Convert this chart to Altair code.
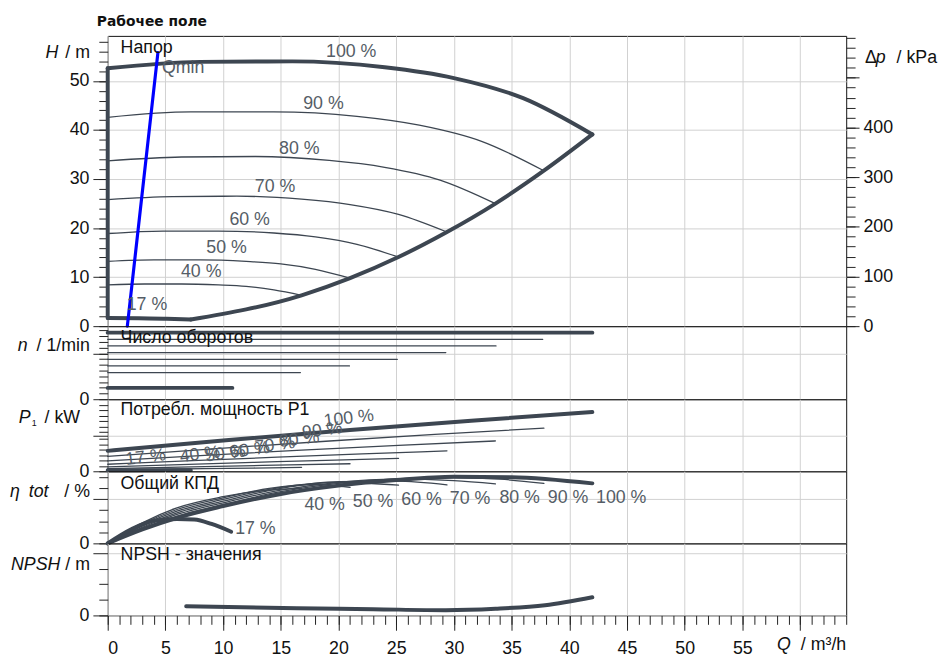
import altair as alt
import pandas as pd

# ---------------- data ----------------
# Head H [m] over Q [m3/h] per speed
HQ_100 = [0, 8, 16, 24, 30, 36, 42]
HH_100 = [52.6, 53.9, 54.0, 52.8, 50.6, 46.5, 39.1]
HQ_90 = [0, 7.2, 14.4, 21.6, 27.0, 32.4, 37.8]
HH_90 = [42.6, 43.7, 43.7, 42.8, 41.0, 37.7, 31.7]
HQ_80 = [0, 6.4, 12.8, 19.2, 24.0, 28.8, 33.6]
HH_80 = [33.7, 34.5, 34.6, 33.8, 32.4, 29.8, 25.0]
HQ_70 = [0, 5.6, 11.2, 16.8, 21.0, 25.2, 29.4]
HH_70 = [25.8, 26.4, 26.5, 25.9, 24.8, 22.8, 19.2]
HQ_60 = [0, 4.8, 9.6, 14.4, 18.0, 21.6, 25.2]
HH_60 = [18.9, 19.4, 19.4, 19.0, 18.2, 16.7, 14.1]
HQ_50 = [0, 4.0, 8.0, 12.0, 15.0, 18.0, 21.0]
HH_50 = [13.2, 13.5, 13.5, 13.2, 12.7, 11.6, 9.8]
HQ_40 = [0, 3.2, 6.4, 9.6, 12.0, 14.4, 16.8]
HH_40 = [8.4, 8.6, 8.6, 8.4, 8.1, 7.4, 6.3]
HQ_17 = [0, 2.7, 5.1, 7.2]
HH_17 = [1.65, 1.62, 1.5, 1.35]
EDGE_Q = [7.2, 16.8, 21.0, 25.2, 29.4, 33.6, 37.8, 42.0]
EDGE_H = [1.35, 6.3, 9.8, 14.1, 19.2, 25.0, 31.7, 39.1]
LEFT_Q = [0, 0]
LEFT_H = [1.65, 52.6]
QMIN_Q = [1.7, 4.35]
QMIN_H = [0, 55.8]
KPA_PER_M = 9.87
DP_MAJOR = [0, 100, 200, 300, 400, 500]

# Speed n [1/min]
SPEED_NAMES = ["100 %", "90 %", "80 %", "70 %", "60 %", "50 %", "40 %", "17 %"]
N_END_Q = [42.0, 37.7, 33.65, 29.3, 25.1, 20.95, 16.7, 10.8]
N_RPM = [2900, 2610, 2320, 2030, 1740, 1450, 1160, 493]

# Power P1 [kW]
PQ_100 = [0, 10.5, 21, 31.5, 42]
PP_100 = [2.85, 4.35, 5.75, 7.05, 8.26]
PQ_90 = [0, 9.45, 18.9, 28.35, 37.8]
PP_90 = [2.08, 3.17, 4.19, 5.14, 6.02]
PQ_80 = [0, 8.4, 16.8, 25.2, 33.6]
PP_80 = [1.46, 2.23, 2.94, 3.61, 4.23]
PQ_70 = [0, 7.35, 14.7, 22.05, 29.4]
PP_70 = [0.98, 1.49, 1.97, 2.42, 2.85]
PQ_60 = [0, 6.3, 12.6, 18.9, 25.2]
PP_60 = [0.62, 0.94, 1.24, 1.52, 1.8]
PQ_50 = [0, 5.25, 10.5, 15.75, 21]
PP_50 = [0.36, 0.54, 0.72, 0.88, 1.05]
PQ_40 = [0, 4.2, 8.4, 12.6, 16.8]
PP_40 = [0.18, 0.28, 0.37, 0.45, 0.55]
PQ_17 = [0, 7.2]
PP_17 = [0.14, 0.16]

# Efficiency eta tot [%]
EQ_100 = [0, 3, 6, 10, 15, 20, 25, 30, 35, 42]
EE_100 = [0, 12.5, 23, 33.5, 44.5, 52, 57, 60, 59.6, 54]
EQ_90 = [0, 3, 6, 10, 15, 20, 25, 30, 34, 37.8]
EE_90 = [0, 13.5, 24.5, 35, 46.5, 54, 58, 59.2, 57.8, 54]
EQ_80 = [0, 3, 6, 10, 15, 20, 25, 30, 33.6]
EE_80 = [0, 14.5, 26, 36.5, 48, 55, 57.8, 56.5, 53.6]
EQ_70 = [0, 3, 6, 10, 15, 20, 25, 29.4]
EE_70 = [0, 15.5, 27.5, 38, 49.5, 55.5, 56, 52.7]
EQ_60 = [0, 3, 6, 10, 15, 20, 25.2]
EE_60 = [0, 16.5, 29, 39.5, 50.5, 54.8, 52.4]
EQ_50 = [0, 3, 6, 10, 14, 18, 21]
EE_50 = [0, 17.5, 30.5, 41, 49.5, 53, 50.4]
EQ_40 = [0, 3, 6, 10, 13, 16.8]
EE_40 = [0, 18.5, 32, 42, 47, 49.8]
EQ_17 = [0, 2, 4, 6, 7.5, 9, 10.7]
EE_17 = [0, 12.5, 20.5, 22, 21.5, 17.5, 10.5]

# NPSH [m]
NPSH_Q = [6.8, 16.4, 23, 29.3, 33.6, 37.9, 42]
NPSH_V = [1.47, 1.15, 1.0, 0.84, 1.07, 1.63, 2.9]

# curve labels (Q, value)
H_LAB = ["100 %", "90 %", "80 %", "70 %", "60 %", "50 %", "40 %", "17 %"]
H_LAB_Q = [21.1, 18.7, 16.6, 14.5, 12.3, 10.3, 8.1, 3.4]
H_LAB_V = [55.8, 45.3, 36.2, 28.4, 21.7, 15.9, 11.1, 4.2]
P_LAB = ["100 %", "90 %", "80 %", "70 %", "60 %", "50 %", "40 %", "17 %"]
P_LAB_Q = [20.9, 18.6, 16.6, 14.5, 12.3, 10.2, 8.0, 3.3]
P_LAB_V = [7.34, 5.65, 4.4, 3.6, 2.9, 2.4, 2.3, 1.9]
E_LAB = ["100 %", "90 %", "80 %", "70 %", "60 %", "50 %", "40 %", "17 %"]
E_LAB_Q = [44.5, 39.9, 35.7, 31.4, 27.2, 23.0, 18.8, 12.8]
E_LAB_V = [40.9, 40.9, 40.9, 40.0, 39.4, 37.6, 34.7, 13.3]

# ---------------- styling ----------------
LINE = "#3d4651"
LABEL = "#555d66"
GRID = "#d0d0d0"
FONT = "Liberation Sans"
FS = 18
W = 748
XS = alt.Scale(domain=[0, 64], nice=False, zero=False)

H_DOM = [0, 59.2]
N_DOM = [0, 3183]
P_DOM = [0, 10.05]
E_DOM = [0, 64.9]
S_DOM = [0, 11.53]


def ys(dom):
    return alt.Scale(domain=dom, nice=False, zero=False)


def curves(items, dom, interp="monotone", color=LINE):
    rows = []
    for name, qs, vs, w in items:
        for i, (q, v) in enumerate(zip(qs, vs)):
            rows.append({"c": name, "q": q, "v": v, "o": i, "w": w})
    df = pd.DataFrame(rows)
    return alt.Chart(df).mark_line(
        interpolate=interp, strokeCap="round", strokeJoin="round"
    ).encode(
        x=alt.X("q:Q", scale=XS, axis=None),
        y=alt.Y("v:Q", scale=ys(dom), axis=None),
        detail="c:N",
        order="o:Q",
        strokeWidth=alt.StrokeWidth("w:Q", scale=None),
        color=alt.value(color),
    )


def labels(texts, qs, vs, dom, align="center", angle=0, color=LABEL, size=FS):
    df = pd.DataFrame({"t": texts, "q": qs, "v": vs})
    return alt.Chart(df).mark_text(
        font=FONT, fontSize=size, color=color, align=align, baseline="middle", angle=angle
    ).encode(
        x=alt.X("q:Q", scale=XS, axis=None),
        y=alt.Y("v:Q", scale=ys(dom), axis=None),
        text="t:N",
    )


def ptext(t, x, y, align="left", italic=False, size=FS, color="#111", weight="normal", font=FONT):
    return alt.Chart(pd.DataFrame({"t": [t]})).mark_text(
        font=font, fontSize=size, color=color, align=align, baseline="middle",
        fontStyle="italic" if italic else "normal", fontWeight=weight,
    ).encode(x=alt.value(x), y=alt.value(y), text="t:N")


def yaxis(dom, values, size, orient="left", grid=False, label_expr=None):
    kw = dict(
        values=values, orient=orient, grid=grid, gridColor=GRID, gridWidth=1,
        tickSize=size, tickColor="#222", tickWidth=1, domain=False, title=None,
        labelFont=FONT, labelFontSize=FS, labelColor="#111", labelPadding=4,
    )
    if label_expr is None:
        kw["labels"] = False
    else:
        kw["labelExpr"] = label_expr
    return alt.Chart(pd.DataFrame({"q": [0], "v": [dom[0]]})).mark_point(opacity=0).encode(
        x=alt.X("q:Q", scale=XS, axis=None),
        y=alt.Y("v:Q", scale=ys(dom), axis=alt.Axis(**kw)),
    )


def xaxis(dom, values, size=0, grid=False, ticks=False, label_expr=None):
    kw = dict(
        values=values, orient="bottom", grid=grid, gridColor=GRID, gridWidth=1, ticks=ticks,
        tickColor="#222", domain=False, title=None,
        labelFont=FONT, labelFontSize=FS, labelColor="#111", labelPadding=10,
    )
    if ticks:
        kw["tickSize"] = size
    if label_expr is None:
        kw["labels"] = False
    else:
        kw["labelExpr"] = label_expr
    return alt.Chart(pd.DataFrame({"q": [0], "v": [dom[0]]})).mark_point(opacity=0).encode(
        x=alt.X("q:Q", scale=XS, axis=alt.Axis(**kw)),
        y=alt.Y("v:Q", scale=ys(dom), axis=None),
    )


def panel(layers, height):
    return alt.layer(*layers).resolve_axis(
        x="independent", y="independent"
    ).properties(width=W, height=height)


MAJOR_X = list(range(0, 65, 5))

# ---------------- panels ----------------
head = panel([
    xaxis(H_DOM, MAJOR_X, grid=True),
    yaxis(H_DOM, [0, 10, 20, 30, 40, 50], 15, grid=True, label_expr="datum.label"),
    yaxis(H_DOM, [v * 2 for v in range(0, 30)], 9),
    yaxis(H_DOM, [d / KPA_PER_M for d in DP_MAJOR], 13, orient="right",
          label_expr="datum.value < 45 ? format(datum.value * %s, '.0f') : ''" % KPA_PER_M),
    yaxis(H_DOM, [v * 20 / KPA_PER_M for v in range(0, 30)], 9, orient="right"),
    curves([
        ("90", HQ_90, HH_90, 1.3), ("80", HQ_80, HH_80, 1.3), ("70", HQ_70, HH_70, 1.3),
        ("60", HQ_60, HH_60, 1.3), ("50", HQ_50, HH_50, 1.3), ("40", HQ_40, HH_40, 1.3),
    ], H_DOM),
    curves([
        ("100", HQ_100, HH_100, 4), ("17", HQ_17, HH_17, 4),
        ("edge", EDGE_Q, EDGE_H, 4), ("left", LEFT_Q, LEFT_H, 4),
    ], H_DOM),
    curves([("qmin", QMIN_Q, QMIN_H, 3.2)], H_DOM, interp="linear", color="#0000ff"),
    labels(H_LAB, H_LAB_Q, H_LAB_V, H_DOM),
    labels(["Qmin"], [4.7], [52.7], H_DOM, align="left"),
    ptext("Напор", 13, 12),
    ptext("H", -63, 17, italic=True),
    ptext("/ m", -18, 17, align="right"),
    ptext("Δ", 767, 22),
    ptext("p", 778, 22, italic=True),
    ptext("/ kPa", 840, 22, align="right"),
    ptext("Рабочее поле", -11, -14, weight="bold", size=14, font="DejaVu Sans"),
], 294)

n_items = []
for name, qe, rpm in zip(SPEED_NAMES, N_END_Q, N_RPM):
    w = 4 if name in ("100 %", "17 %") else 1.3
    n_items.append((name, [0, qe], [rpm, rpm], w))

speed = panel([
    xaxis(N_DOM, MAJOR_X, grid=True),
    yaxis(N_DOM, [0, 2000], 15, grid=True, label_expr="datum.value == 0 ? '0' : ''"),
    yaxis(N_DOM, [v * 250 for v in range(0, 13)], 9),
    curves([i for i in n_items if i[3] < 2], N_DOM, interp="linear"),
    curves([i for i in n_items if i[3] >= 2], N_DOM, interp="linear"),
    ptext("Число оборотов", 13, 12),
    ptext("n", -91, 20, italic=True),
    ptext("/ 1/min", -18, 20, align="right"),
], 74)

power = panel([
    xaxis(P_DOM, MAJOR_X, grid=True),
    yaxis(P_DOM, [0, 5], 15, grid=True, label_expr="datum.value == 0 ? '0' : ''"),
    yaxis(P_DOM, [0, 0.75, 1.5, 2.25, 3.0, 3.75, 4.5, 5.5, 6.25, 7.0, 7.75, 8.5, 9.25], 9),
    curves([
        ("90", PQ_90, PP_90, 1.3), ("80", PQ_80, PP_80, 1.3), ("70", PQ_70, PP_70, 1.3),
        ("60", PQ_60, PP_60, 1.3), ("50", PQ_50, PP_50, 1.3), ("40", PQ_40, PP_40, 1.3),
    ], P_DOM),
    curves([("100", PQ_100, PP_100, 4), ("17", PQ_17, PP_17, 4)], P_DOM),
    labels(P_LAB, P_LAB_Q, P_LAB_V, P_DOM, angle=353),
    ptext("Потребл. мощность P1", 13, 11),
    ptext("P", -90, 19, italic=True),
    ptext("1", -77, 24, size=9),
    ptext("/ kW", -28, 19, align="right"),
], 73)

eff = panel([
    xaxis(E_DOM, MAJOR_X, grid=True),
    yaxis(E_DOM, [0, 40], 15, grid=True, label_expr="datum.value == 0 ? '0' : ''"),
    yaxis(E_DOM, [0, 10, 20, 30, 50, 60], 9),
    curves([
        ("90", EQ_90, EE_90, 1.3), ("80", EQ_80, EE_80, 1.3), ("70", EQ_70, EE_70, 1.3),
        ("60", EQ_60, EE_60, 1.3), ("50", EQ_50, EE_50, 1.3), ("40", EQ_40, EE_40, 1.3),
    ], E_DOM),
    curves([("100", EQ_100, EE_100, 4), ("17", EQ_17, EE_17, 4)], E_DOM),
    labels(E_LAB, E_LAB_Q, E_LAB_V, E_DOM),
    ptext("Общий КПД", 13, 13),
    ptext("η\u2002tot", -99, 21, italic=True),
    ptext("/ %", -18, 21, align="right"),
], 73)

npsh = panel([
    xaxis(S_DOM, MAJOR_X, size=15, grid=True, ticks=True,
          label_expr="datum.value >= 60 ? '' : datum.label"),
    xaxis(S_DOM, list(range(0, 65, 1)), size=9, ticks=True),
    yaxis(S_DOM, [0, 10], 15, grid=True, label_expr="datum.value == 0 ? '0' : ''"),
    yaxis(S_DOM, [0, 2.5, 5, 7.5], 9),
    curves([("npsh", NPSH_Q, NPSH_V, 4)], S_DOM),
    ptext("NPSH - значения", 13, 12),
    ptext("NPSH", -98, 22, italic=True),
    ptext("/ m", -18, 22, align="right"),
    ptext("Q", 692, 103, align="right", italic=True),
    ptext("/ m³/h", 748, 103, align="right"),
], 73)

chart = alt.vconcat(head, speed, power, eff, npsh, spacing=0, bounds="flush").configure_view(
    stroke="#111", strokeWidth=1
).properties(padding={"left": 1, "top": 2, "right": 2, "bottom": 5})

chart.save("out.html", embed_options={"renderer": "svg", "actions": False})
